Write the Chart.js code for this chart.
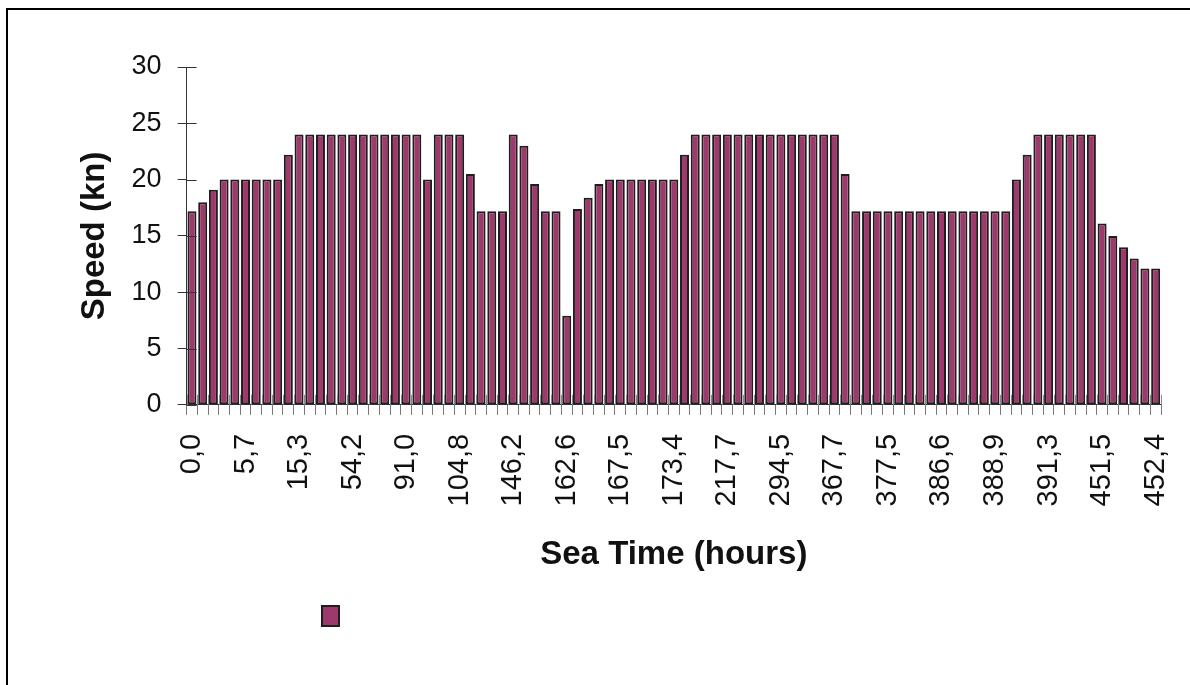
<!DOCTYPE html>
<html>
<head>
<meta charset="utf-8">
<script src="https://cdn.jsdelivr.net/npm/chart.js@4/dist/chart.umd.min.js"></script>
<style>
  html, body { margin: 0; padding: 0; background: #fff; overflow: hidden; }
  body { width: 1190px; height: 685px; position: relative; }
  .frame {
    position: absolute; left: 6px; top: 8px;
    width: 1300px; height: 800px;
    border: 2px solid #000;
  }
  .wrap { position: absolute; left: 0; top: 0; width: 1190px; height: 685px; }
</style>
</head>
<body>
<div class="frame"></div>
<div class="wrap"><canvas id="speedChart"></canvas></div>
<script>
// speed per sea-time step (kn)
const speeds = [
    17.2, 18.0, 19.1, 20, 20, 20, 20, 20, 20, 22.2,
    24, 24, 24, 24, 24, 24, 24, 24, 24, 24,
    24, 24, 20, 24, 24, 24, 20.5, 17.2, 17.2, 17.2,
    24, 23.0, 19.6, 17.2, 17.2, 7.9, 17.4, 18.4, 19.6, 20,
    20, 20, 20, 20, 20, 20, 22.2, 24, 24, 24,
    24, 24, 24, 24, 24, 24, 24, 24, 24, 24,
    24, 20.5, 17.2, 17.2, 17.2, 17.2, 17.2, 17.2, 17.2, 17.2,
    17.2, 17.2, 17.2, 17.2, 17.2, 17.2, 17.2, 20, 22.2, 24,
    24, 24, 24, 24, 24, 16.1, 15.0, 14.0, 13.0, 12.1,
    12.1
];

// sea time labels, one every 5 bars
const tickLabels = [
    "0,0", "5,7", "15,3", "54,2", "91,0", "104,8", "146,2", "162,6", "167,5", "173,4",
    "217,7", "294,5", "367,7", "377,5", "386,6", "388,9", "391,3", "451,5", "452,4"
];
const labelStep = 5;

const yTicks = [0, 5, 10, 15, 20, 25, 30];

const categories = speeds.map((_, i) => i % labelStep === 0 ? tickLabels[i / labelStep] : "");

// small ticks on the inner side of both axes
const innerTicks = {
    id: "innerTicks",
    afterDatasetsDraw(chart) {
        const { ctx, chartArea, scales: { x, y } } = chart;
        ctx.save();
        ctx.lineWidth = 1;
        ctx.strokeStyle = "#333";
        ctx.beginPath();
        y.ticks.forEach((t, i) => {
            const py = Math.round(y.getPixelForTick(i)) + 0.5;
            ctx.moveTo(chartArea.left, py);
            ctx.lineTo(chartArea.left + 10, py);
        });
        ctx.stroke();
        ctx.strokeStyle = "#888";
        ctx.beginPath();
        for (let i = 0; i <= categories.length; i++) {
            const px = Math.round(x.getPixelForValue(i - 0.5)) + 0.5;
            ctx.moveTo(px, chartArea.bottom - 10);
            ctx.lineTo(px, chartArea.bottom);
        }
        ctx.stroke();
        ctx.restore();
    }
};

// legend sits under the left part of the chart
const legendSpot = {
    id: "legendSpot",
    afterLayout(chart) {
        chart.legend.left = 312;
    }
};

new Chart(document.getElementById("speedChart"), {
    type: "bar",
    data: {
        labels: categories,
        datasets: [{
            label: "",
            data: speeds,
            backgroundColor: "#9e3a6b",
            borderColor: "#1e1e1e",
            borderWidth: 2,
            borderSkipped: false,
            categoryPercentage: 1,
            barPercentage: 0.84
        }]
    },
    options: {
        responsive: true,
        maintainAspectRatio: false,
        animation: false,
        layout: { padding: { left: 75, right: 29, top: 67, bottom: 49 } },
        plugins: {
            tooltip: { enabled: false },
            legend: {
                position: "bottom",
                align: "start",
                labels: { boxWidth: 17, boxHeight: 20, padding: 10, font: { size: 12 } }
            }
        },
        scales: {
            x: {
                // rotated end labels fit in the right margin already
                afterFit(scale) {
                    scale.paddingRight = 0;
                },
                grid: {
                    display: true,
                    drawOnChartArea: false,
                    drawTicks: true,
                    tickLength: 10,
                    color: "#777"
                },
                border: { display: true, color: "#333", width: 1 },
                ticks: {
                    autoSkip: false,
                    minRotation: 90,
                    maxRotation: 90,
                    padding: 19,
                    color: "#111",
                    font: { family: "Liberation Sans", size: 29 }
                },
                title: {
                    display: true,
                    text: "Sea Time (hours)",
                    color: "#111",
                    font: { family: "Liberation Sans", size: 33, weight: "bold" },
                    padding: { top: 10, bottom: 21 }
                }
            },
            y: {
                min: 0,
                max: 30,
                afterBuildTicks(scale) {
                    scale.ticks = yTicks.map(v => ({ value: v }));
                },
                grid: {
                    display: true,
                    drawOnChartArea: false,
                    drawTicks: true,
                    tickLength: 9,
                    color: "#333"
                },
                border: { display: true, color: "#333", width: 1 },
                ticks: {
                    padding: 16,
                    color: "#111",
                    font: { family: "Liberation Sans", size: 27 }
                },
                title: {
                    display: true,
                    text: "Speed (kn)",
                    color: "#111",
                    font: { family: "Liberation Sans", size: 33, weight: "bold" },
                    padding: { top: 0, bottom: 1 }
                }
            }
        }
    },
    plugins: [innerTicks, legendSpot]
});
</script>
</body>
</html>
